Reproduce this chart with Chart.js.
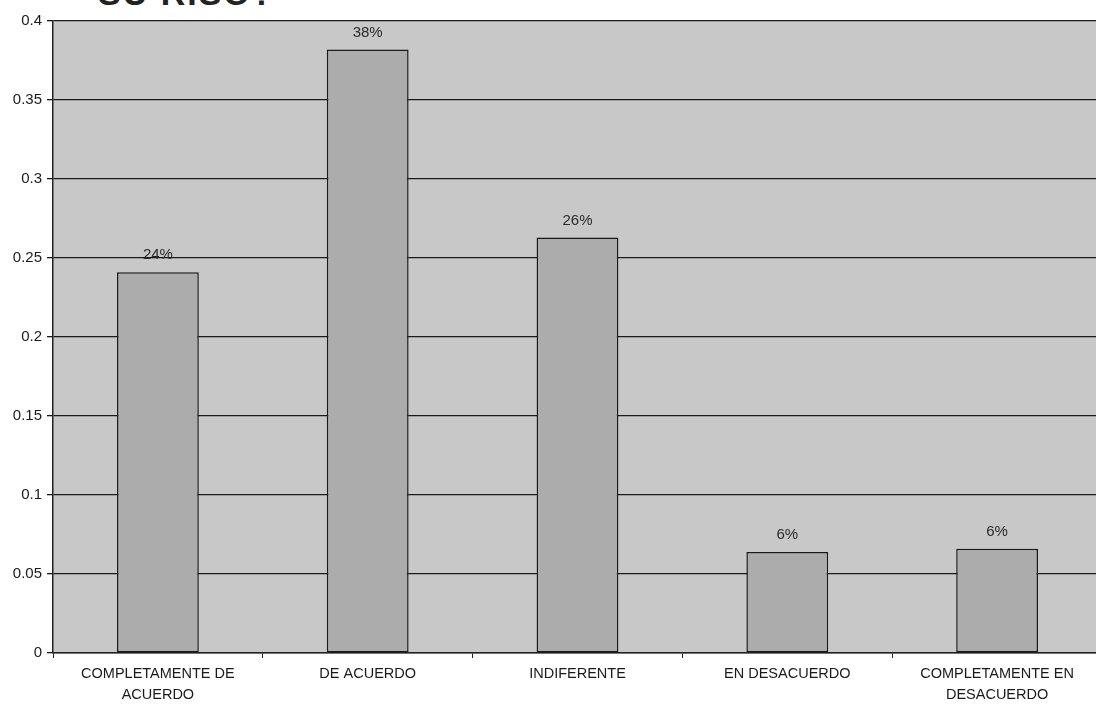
<!DOCTYPE html>
<html>
<head>
<meta charset="utf-8">
<script src="https://cdn.jsdelivr.net/npm/chart.js@4.4.1/dist/chart.umd.min.js"></script>
<style>
  html, body { margin: 0; padding: 0; background: #ffffff; overflow: hidden; }
  #wrap { position: relative; width: 1096px; height: 704px; overflow: hidden; }
  #title { position: absolute; left: 98px; top: -26px; font-family: "Liberation Sans", Arial, sans-serif; font-size: 34px; font-weight: bold; color: #222; letter-spacing: 2px; }
  canvas { position: absolute; left: 0; top: 0; }
</style>
</head>
<body>
<div id="wrap">
  <div id="title">SU RISO?</div>
  <canvas id="chart" width="1105" height="704"></canvas>
</div>
<script>
const categories = [
  ["COMPLETAMENTE DE", "ACUERDO"],
  "DE ACUERDO",
  "INDIFERENTE",
  "EN DESACUERDO",
  ["COMPLETAMENTE EN", "DESACUERDO"]
];
const values = [0.241, 0.382, 0.263, 0.064, 0.066];
const valueLabels = ["24%", "38%", "26%", "6%", "6%"];
const yTicks = [0, 0.05, 0.1, 0.15, 0.2, 0.25, 0.3, 0.35, 0.4];

const plotBackground = {
  id: 'plotBackground',
  beforeDraw(chart) {
    const { ctx, chartArea } = chart;
    ctx.save();
    ctx.fillStyle = '#c8c8c8';
    ctx.fillRect(chartArea.left, chartArea.top, chartArea.right - chartArea.left, chartArea.bottom - chartArea.top);
    ctx.restore();
  }
};

const barLabels = {
  id: 'barLabels',
  afterDatasetsDraw(chart) {
    const { ctx } = chart;
    const meta = chart.getDatasetMeta(0);
    ctx.save();
    ctx.fillStyle = '#2a2a2a';
    ctx.font = '15px "Liberation Sans", Arial, sans-serif';
    ctx.textAlign = 'center';
    ctx.textBaseline = 'middle';
    meta.data.forEach((bar, i) => {
      ctx.fillText(valueLabels[i], bar.x, bar.y - 17);
    });
    ctx.restore();
  }
};

new Chart(document.getElementById('chart'), {
  type: 'bar',
  data: {
    labels: categories,
    datasets: [{
      data: values,
      backgroundColor: '#acacac',
      borderColor: '#1a1a1a',
      borderWidth: 1.5,
      borderSkipped: false,
      categoryPercentage: 1,
      barPercentage: 0.39
    }]
  },
  options: {
    responsive: false,
    animation: false,
    layout: { padding: { top: 21, right: 3, left: 0, bottom: 0 } },
    plugins: {
      legend: { display: false },
      tooltip: { enabled: false }
    },
    scales: {
      x: {
        afterFit(scale) { scale.height = 51; },
        border: { color: '#222', width: 1.5 },
        grid: { offset: true, drawOnChartArea: false, drawTicks: true, tickLength: 5, color: '#222' },
        ticks: {
          color: '#1a1a1a',
          font: { family: '"Liberation Sans", Arial, sans-serif', size: 14.5, lineHeight: 1.45 },
          maxRotation: 0,
          autoSkip: false,
          padding: 5
        }
      },
      y: {
        min: 0,
        max: 0.4,
        afterFit(scale) { scale.width = 53; },
        afterBuildTicks(scale) { scale.ticks = yTicks.map(v => ({ value: v })); },
        border: { color: '#222', width: 1.5 },
        grid: { color: '#1a1a1a', lineWidth: 1.3, tickLength: 6 },
        ticks: {
          color: '#1a1a1a',
          font: { family: '"Liberation Sans", Arial, sans-serif', size: 15 },
          padding: 5,
          callback: v => String(+v.toFixed(2))
        }
      }
    }
  },
  plugins: [plotBackground, barLabels]
});
</script>
</body>
</html>
